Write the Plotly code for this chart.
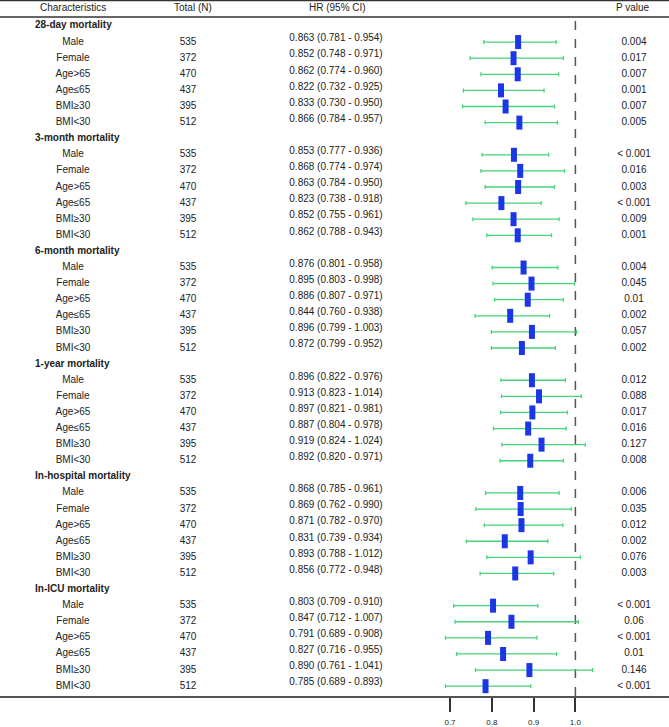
import plotly.graph_objects as go

# ---- data ----
groups = ["28-day mortality", "3-month mortality", "6-month mortality",
          "1-year mortality", "In-hospital mortality", "In-ICU mortality"]
subgroups = ["Male", "Female", "Age>65", "Age≤65", "BMI≥30", "BMI<30"]
totals = [535, 372, 470, 437, 395, 512]

hr = [0.863, 0.852, 0.862, 0.822, 0.833, 0.866,
      0.853, 0.868, 0.863, 0.823, 0.852, 0.862,
      0.876, 0.895, 0.886, 0.844, 0.896, 0.872,
      0.896, 0.913, 0.897, 0.887, 0.919, 0.892,
      0.868, 0.869, 0.871, 0.831, 0.893, 0.856,
      0.803, 0.847, 0.791, 0.827, 0.890, 0.785]
lo = [0.781, 0.748, 0.774, 0.732, 0.730, 0.784,
      0.777, 0.774, 0.784, 0.738, 0.755, 0.788,
      0.801, 0.803, 0.807, 0.760, 0.799, 0.799,
      0.822, 0.823, 0.821, 0.804, 0.824, 0.820,
      0.785, 0.762, 0.782, 0.739, 0.788, 0.772,
      0.709, 0.712, 0.689, 0.716, 0.761, 0.689]
hi = [0.954, 0.971, 0.960, 0.925, 0.950, 0.957,
      0.936, 0.974, 0.950, 0.918, 0.961, 0.943,
      0.958, 0.998, 0.971, 0.938, 1.003, 0.952,
      0.976, 1.014, 0.981, 0.978, 1.024, 0.971,
      0.961, 0.990, 0.970, 0.934, 1.012, 0.948,
      0.910, 1.007, 0.908, 0.955, 1.041, 0.893]
pvals = ["0.004", "0.017", "0.007", "0.001", "0.007", "0.005",
         "< 0.001", "0.016", "0.003", "< 0.001", "0.009", "0.001",
         "0.004", "0.045", "0.01", "0.002", "0.057", "0.002",
         "0.012", "0.088", "0.017", "0.016", "0.127", "0.008",
         "0.006", "0.035", "0.012", "0.002", "0.076", "0.003",
         "< 0.001", "0.06", "< 0.001", "0.01", "0.146", "< 0.001"]
tick_vals = [0.7, 0.8, 0.9, 1.0]
tick_text = ["0.7", "0.8", "0.9", "1.0"]

# ---- layout constants (pixels) ----
W, H = 669, 727
TOP, BOT = 17, 29
FONT = "Liberation Sans, Arial, sans-serif"
BLUE = "#1a36e6"
GREEN = "#45d47a"
TXT = "#222222"

# row index: group header then its 6 subgroups
head_rows = [g * 7 for g in range(len(groups))]
sub_rows = [g * 7 + 1 + k for g in range(len(groups)) for k in range(len(subgroups))]
sub_labels = subgroups * len(groups)
sub_totals = [str(n) for n in totals] * len(groups)
hr_text = [f"{h:.3f} ({l:.3f} - {u:.3f})" for h, l, u in zip(hr, lo, hi)]

fig = go.Figure()

# CI whiskers + boxes
fig.add_trace(go.Scatter(
    x=hr, y=sub_rows, mode="markers",
    marker=dict(symbol="line-ns", size=10, color=BLUE,
                line=dict(width=6, color=BLUE)),
    error_x=dict(type="data", symmetric=False,
                 array=[u - h for h, u in zip(hr, hi)],
                 arrayminus=[h - l for h, l in zip(hr, lo)],
                 color=GREEN, thickness=1.3, width=2),
    showlegend=False, hoverinfo="skip", cliponaxis=False,
))

# text columns on a pixel-like overlay axis
def col(x, y, text, pos="middle center", bold=False):
    fig.add_trace(go.Scatter(
        x=[x] * len(y), y=y, text=text, mode="text", xaxis="x2",
        textposition=pos,
        textfont=dict(family=FONT, size=10, color=TXT),
        texttemplate="<b>%{text}</b>" if bold else "%{text}",
        showlegend=False, hoverinfo="skip", cliponaxis=False,
    ))

col(35, head_rows, groups, pos="middle right", bold=True)
col(73, sub_rows, sub_labels)
col(188, sub_rows, sub_totals)
col(336, [r - 0.2 for r in sub_rows], hr_text)
col(634, sub_rows, pvals)

# header row
for x, t in [(73, "Characteristics"), (193, "Total (N)"),
             (337, "HR (95% CI)"), (633, "P value")]:
    fig.add_annotation(x=x / W, y=1 + 10 / (H - TOP - BOT), xref="paper", yref="paper",
                       text=t, showarrow=False, xanchor="center", yanchor="middle",
                       font=dict(family=FONT, size=10, color=TXT))

ph = H - TOP - BOT
fig.add_shape(type="line", xref="paper", yref="paper", x0=0, x1=1,
              y0=1 + 16.5 / ph, y1=1 + 16.5 / ph, line=dict(color="#333", width=1.5))
fig.add_shape(type="line", xref="paper", yref="paper", x0=0, x1=1,
              y0=1, y1=1, line=dict(color="#333", width=1.5))
# reference line at HR = 1
fig.add_shape(type="line", xref="x", yref="paper", x0=1.0, x1=1.0,
              y0=0, y1=0.998, line=dict(color="#555", width=1.5, dash="dash"),
              layer="below")

# x scale: 0.7 -> 450px, 1.0 -> 575.4px
px_per = 418.0
x_lo = 0.7 - 450 / px_per
x_hi = 0.7 + (W - 450) / px_per
row_px = 16.15
y_top = (TOP - 26) / row_px
y_bot = (H - BOT - 26) / row_px

fig.update_layout(
    width=W, height=H,
    margin=dict(l=0, r=0, t=TOP, b=BOT),
    plot_bgcolor="white", paper_bgcolor="white",
    font=dict(family=FONT, size=10, color=TXT),
    xaxis=dict(range=[x_lo, x_hi], tickvals=tick_vals, ticktext=tick_text,
               showgrid=False, zeroline=False, showline=True,
               linecolor="#555", linewidth=1.5, ticks="outside",
               ticklen=14, tickwidth=1.5, tickcolor="#333",
               ticklabelstandoff=4,
               tickfont=dict(family=FONT, size=8, color=TXT)),
    xaxis2=dict(range=[0, W], overlaying="x", visible=False),
    yaxis=dict(range=[y_bot, y_top], visible=False),
)

fig.write_html("out.html", config={"displayModeBar": False},
               post_script="document.body.style.margin='0';")
